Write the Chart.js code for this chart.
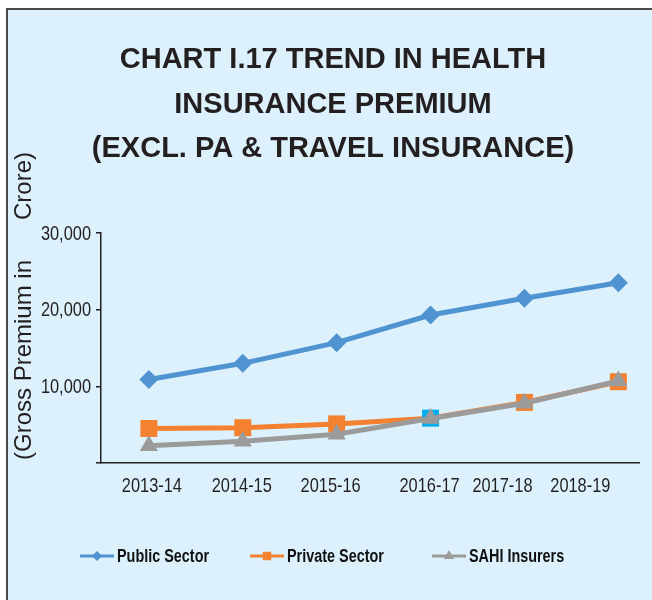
<!DOCTYPE html>
<html>
<head>
<meta charset="utf-8">
<title>Chart I.17 Trend in Health Insurance Premium</title>
<script src="https://cdn.jsdelivr.net/npm/chart.js"></script>
<style>
  html, body { margin: 0; padding: 0; background: #fff; }
  #wrap { width: 652px; height: 600px; }
</style>
</head>
<body>
<div id="wrap"><canvas id="premiumChart" width="652" height="600"></canvas></div>
<script>
// values (Rs crore)
const categories = ['2013-14', '2014-15', '2015-16', '2016-17', '2017-18', '2018-19'];
const publicSector = [10900, 13000, 15700, 19300, 21500, 23500];
const privateSector = [4500, 4600, 5100, 5850, 7900, 10600];
const sahiInsurers = [2250, 2850, 3750, 5800, 7800, 10700];
const seriesNames = ['Public Sector', 'Private Sector', 'SAHI Insurers'];
const yTicks = [0, 10000, 20000, 30000];
const titleLines = ['CHART I.17 TREND IN HEALTH', 'INSURANCE PREMIUM', '(EXCL. PA & TRAVEL INSURANCE)'];
const yAxisTitle = '(Gross Premium in      Crore)';

const BLUE = '#4f94d0';
const ORANGE = '#f4812f';
const GRAY = '#9b9b9b';
const CYAN = '#00aeef';
const INK = '#231f20';
const SANS = "'Liberation Sans', Arial, sans-serif";

// the source labels sit a little off their points
const xNudge = [3, -1, -6, -1, -22, -38];

const toXY = arr => arr.map((v, i) => ({ x: i, y: v }));

// no narrow face installed, so squeeze the regular one
function narrowText(ctx, text, x, y, align, squeeze) {
  ctx.save();
  ctx.translate(x, y);
  ctx.scale(squeeze || 0.82, 1);
  ctx.textAlign = align;
  ctx.fillText(text, 0, 0);
  ctx.restore();
}

const decor = {
  id: 'decor',
  beforeDraw(chart) {
    const ctx = chart.ctx;
    ctx.save();
    ctx.fillStyle = '#fff';
    ctx.fillRect(0, 0, chart.width, chart.height);
    ctx.fillStyle = '#dcf1fc';
    ctx.fillRect(8, 10, chart.width - 8, chart.height - 10);
    ctx.strokeStyle = '#4a4a4a';
    ctx.lineWidth = 2;
    ctx.beginPath();
    ctx.moveTo(7, chart.height);
    ctx.lineTo(7, 9);
    ctx.lineTo(chart.width, 9);
    ctx.stroke();
    ctx.restore();
  },
  afterDraw(chart) {
    const ctx = chart.ctx;
    const xs = chart.scales.x;
    const ys = chart.scales.y;
    ctx.save();

    // title
    ctx.fillStyle = INK;
    ctx.textAlign = 'center';
    ctx.textBaseline = 'alphabetic';
    ctx.font = 'bold 29px ' + SANS;
    [68, 112.5, 157].forEach((y, i) => ctx.fillText(titleLines[i], 333, y));

    // y axis title
    ctx.save();
    ctx.translate(24, 306);
    ctx.rotate(-Math.PI / 2);
    ctx.textBaseline = 'middle';
    ctx.font = '24px ' + SANS;
    ctx.fillText(yAxisTitle, 0, 0);
    ctx.restore();

    // y tick labels
    ctx.font = '21px ' + SANS;
    ctx.textBaseline = 'middle';
    yTicks.forEach(v => {
      if (v === 0) return;
      narrowText(ctx, v.toLocaleString('en-US'), 91, ys.getPixelForValue(v) + 1, 'right', 0.78);
    });

    // category labels
    categories.forEach((c, i) => {
      narrowText(ctx, c, xs.getPixelForValue(i) + xNudge[i], 486, 'center', 0.78);
    });

    // legend
    const colors = [BLUE, ORANGE, GRAY];
    const styles = ['rectRot', 'rect', 'triangle'];
    const radii = [5, 6, 6];
    const lx = [80, 250, 432];
    const ly = 556;
    seriesNames.forEach((name, i) => {
      ctx.strokeStyle = colors[i];
      ctx.fillStyle = colors[i];
      ctx.lineWidth = 3;
      ctx.beginPath();
      ctx.moveTo(lx[i], ly);
      ctx.lineTo(lx[i] + 34, ly);
      ctx.stroke();
      Chart.helpers.drawPoint(ctx, { pointStyle: styles[i], radius: radii[i], borderWidth: 0, rotation: 0 }, lx[i] + 17, ly);
      ctx.fillStyle = '#111';
      ctx.font = 'bold 18px ' + SANS;
      narrowText(ctx, name, lx[i] + 37, ly + 1, 'left', 0.8);
    });
    ctx.restore();
  }
};

new Chart(document.getElementById('premiumChart'), {
  type: 'line',
  data: {
    datasets: [
      {
        label: seriesNames[0],
        data: toXY(publicSector),
        borderColor: BLUE,
        backgroundColor: BLUE,
        borderWidth: 5,
        pointStyle: 'rectRot',
        pointRadius: 9.5,
        pointBorderWidth: 0,
        order: 2
      },
      {
        label: seriesNames[1],
        data: toXY(privateSector),
        borderColor: ORANGE,
        backgroundColor: ORANGE,
        pointBackgroundColor: privateSector.map((v, i) => i === 3 ? CYAN : ORANGE),
        borderWidth: 5,
        pointStyle: 'rect',
        pointRadius: 12,
        pointBorderWidth: 0,
        order: 1
      },
      {
        label: seriesNames[2],
        data: toXY(sahiInsurers),
        borderColor: GRAY,
        backgroundColor: GRAY,
        borderWidth: 5,
        pointStyle: 'triangle',
        pointRadius: 10.5,
        pointBorderWidth: 0,
        order: 0
      }
    ]
  },
  options: {
    responsive: false,
    animation: false,
    layout: { padding: { top: 233, right: 13, left: 0, bottom: 0 } },
    plugins: {
      legend: { display: false },
      title: { display: false },
      tooltip: { enabled: false }
    },
    scales: {
      x: {
        type: 'linear',
        min: -0.51,
        max: 5.22,
        ticks: { display: false },
        grid: { display: false },
        border: { display: true, color: INK, width: 1.5 },
        afterFit(s) { s.height = 137; }
      },
      y: {
        min: 0,
        max: 30000,
        afterBuildTicks(s) { s.ticks = yTicks.map(v => ({ value: v })); },
        ticks: { display: false },
        grid: { drawOnChartArea: false, drawTicks: true, tickLength: 5, color: INK, lineWidth: 1.5 },
        border: { display: true, color: INK, width: 1.5 },
        afterFit(s) { s.width = 101; }
      }
    }
  },
  plugins: [decor]
});
</script>
</body>
</html>
